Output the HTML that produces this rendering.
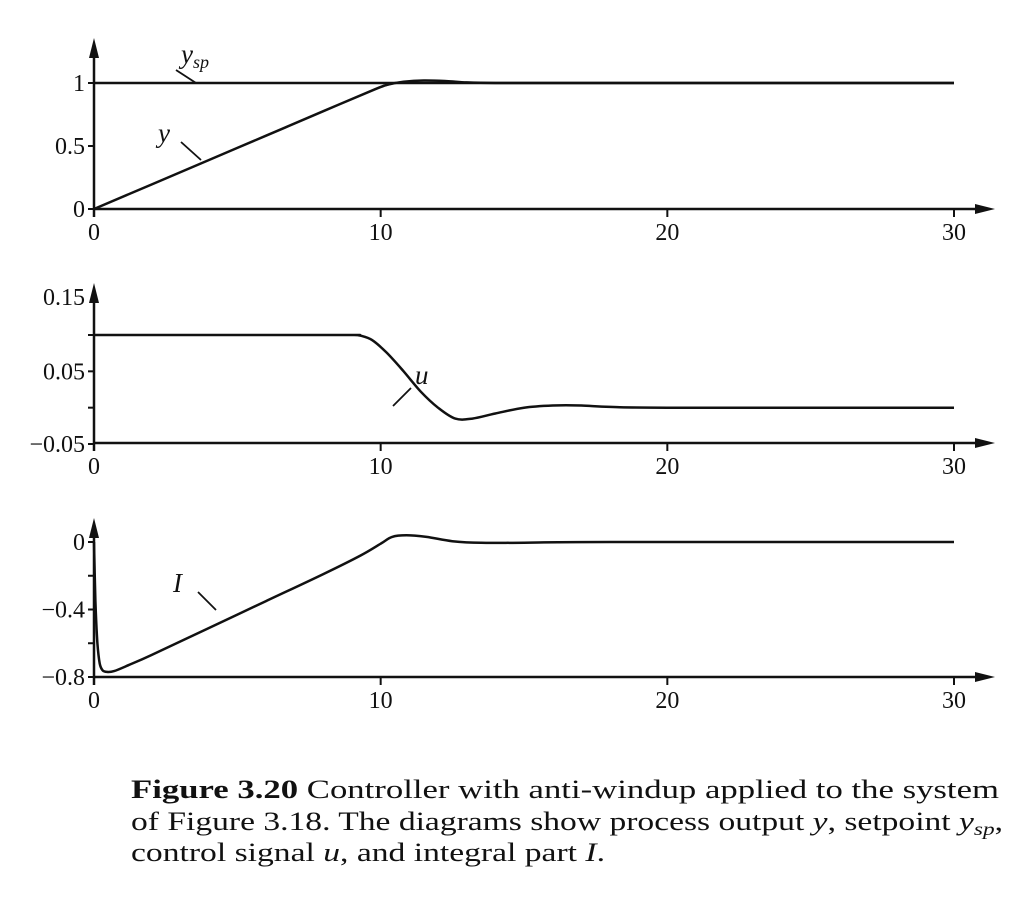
<!DOCTYPE html>
<html><head><meta charset="utf-8"><style>
body{margin:0;background:#fff;}
svg text{font-family:"Liberation Serif",serif;fill:#111;}
</style></head><body>
<svg width="1024" height="892">
<g id="charts"></g>
<text x="131" y="798" font-size="26" textLength="868" lengthAdjust="spacingAndGlyphs"><tspan font-weight="bold">Figure 3.20</tspan>   Controller with anti-windup applied to the system</text>
<text x="131" y="830" font-size="26" textLength="872" lengthAdjust="spacingAndGlyphs">of Figure 3.18. The diagrams show process output <tspan font-style="italic">y</tspan>, setpoint <tspan font-style="italic">y</tspan><tspan font-style="italic" font-size="18" dy="5">sp</tspan><tspan dy="-5">,</tspan></text>
<text x="131" y="861" font-size="26" textLength="474" lengthAdjust="spacingAndGlyphs">control signal <tspan font-style="italic">u</tspan>, and integral part <tspan font-style="italic">I</tspan>.</text>
</svg>
<script>
const xTicks=[0,10,20,30];
// panel 1
const yT=[0,2,4,6,8,9.8,10.3,10.8,11.5,12.3,13,14,16,20,30];
const yV=[0,0.194,0.388,0.582,0.776,0.95,0.99,1.01,1.02,1.015,1.005,1.0,1.0,1.0,1.0];
const yspT=[0,30], yspV=[1,1];
const p1Ticks=[0,0.5,1], p1Labels=["0","0.5","1"];
// panel 2
const uT=[0,8.5,9.0,9.3,9.7,10.2,10.8,11.4,12.0,12.6,13.2,14,15,16,17,18,20,30];
const uV=[0.1,0.1,0.1,0.099,0.093,0.076,0.05,0.022,0.0,-0.015,-0.015,-0.008,0.0,0.003,0.003,0.001,0,0];
const p2Ticks=[-0.05,0,0.05,0.1], p2Labels=["\u22120.05","","0.05",""];
// panel 3
const iT=[0,0.05,0.12,0.2,0.3,0.45,0.7,1.2,2,4,6,8,9.3,10,10.4,10.9,11.6,12.5,13.5,15,18,30];
const iV=[0,-0.35,-0.6,-0.72,-0.76,-0.77,-0.765,-0.73,-0.67,-0.51,-0.35,-0.19,-0.08,-0.01,0.03,0.04,0.03,0.005,-0.005,-0.004,0,0];
const p3Ticks=[-0.8,-0.6,-0.4,-0.2,0], p3Labels=["\u22120.8","","\u22120.4","","0"];

const NS="http://www.w3.org/2000/svg";
const root=document.getElementById('charts');
function mk(tag,attrs,parent){const e=document.createElementNS(NS,tag);for(const k in attrs)e.setAttribute(k,attrs[k]);(parent||root).appendChild(e);return e;}
const X0=94,X1=954;
const sx=t=>X0+(X1-X0)*t/30;
function smooth(P){
  let d='M'+P[0][0].toFixed(1)+','+P[0][1].toFixed(1);
  for(let i=0;i<P.length-1;i++){
    const p0=P[i-1]||P[i],p1=P[i],p2=P[i+1],p3=P[i+2]||P[i+1];
    const c1=[p1[0]+(p2[0]-p0[0])/6,p1[1]+(p2[1]-p0[1])/6];
    const c2=[p2[0]-(p3[0]-p1[0])/6,p2[1]-(p3[1]-p1[1])/6];
    d+=` C${c1[0].toFixed(1)},${c1[1].toFixed(1)} ${c2[0].toFixed(1)},${c2[1].toFixed(1)} ${p2[0].toFixed(1)},${p2[1].toFixed(1)}`;
  }
  return d;
}
function panel(name,axisY,top,vmin,vmax,pxMin,pxMax,ticks,labels,series,topLabel){
  const sy=v=>pxMin+(pxMax-pxMin)*(v-vmin)/(vmax-vmin);
  const g=mk('g',{});
  
  
  const xa=mk('line',{x1:X0,y1:axisY,x2:985,y2:axisY,stroke:'#111','stroke-width':2.5},g);
  
  
  mk('polygon',{points:`995,${axisY} 975,${axisY-5} 975,${axisY+5}`,fill:'#111'},g);
  const ya=mk('line',{x1:X0,y1:axisY+8,x2:X0,y2:top+15,stroke:'#111','stroke-width':2.5},g);
  
  
  mk('polygon',{points:`${X0},${top} ${X0-5},${top+20} ${X0+5},${top+20}`,fill:'#111'},g);
  xTicks.forEach(t=>{
    mk('line',{x1:sx(t),y1:axisY,x2:sx(t),y2:axisY+8,stroke:'#111','stroke-width':2},g);
    const tx=mk('text',{x:sx(t),y:axisY+31,'font-size':24,'text-anchor':'middle'},g);
    tx.textContent=t;
    
    
  });
  ticks.forEach((v,i)=>{
    mk('line',{x1:X0-6,y1:sy(v),x2:X0,y2:sy(v),stroke:'#111','stroke-width':2},g);
    if(labels[i]){
      const tx=mk('text',{x:X0-9,y:sy(v)+8,'font-size':24,'text-anchor':'end'},g);
      tx.textContent=labels[i];
      
      
    }
  });
  if(topLabel){
    const tx=mk('text',{x:X0-9,y:top+22,'font-size':24,'text-anchor':'end'},g);
    tx.textContent=topLabel;
    
    
  }
  series.forEach(s=>{
    const P=s.t.map((t,i)=>[sx(t),sy(s.v[i])]);
    const p=mk('path',{d:smooth(P),fill:'none',stroke:'#111','stroke-width':2.5,'stroke-linejoin':'round'},g);
    
    
  });
  return sy;
}
panel('panel-output',209,38,0,1,209,83,p1Ticks,p1Labels,[{name:'setpoint-line',t:yspT,v:yspV},{name:'output-line',t:yT,v:yV}]);
panel('panel-control',443,283,-0.05,0.1,444,335,p2Ticks,p2Labels,[{name:'control-line',t:uT,v:uV}],"0.15");
panel('panel-integral',677,518,-0.8,0,677,542,p3Ticks,p3Labels,[{name:'integral-line',t:iT,v:iV}]);
function lab(x,y,txt,sub,name,lx1,ly1,lx2,ly2){
  const t=mk('text',{x:x,y:y,'font-size':27,'font-style':'italic'});
  t.textContent=txt;
  
  
  if(sub){const s=mk('tspan',{'font-size':18,dy:5},t);s.textContent=sub;}
  mk('line',{x1:lx1,y1:ly1,x2:lx2,y2:ly2,stroke:'#111','stroke-width':1.8});
}
lab(181,63,'y','sp','label-ysp',176,70,196,83);
lab(158,142,'y','', 'label-y',181,142,201,160);
lab(415,384,'u','','label-u',411,388,393,406);
lab(173,592,'I','','label-i',198,592,216,610);
</script>
</body></html>
